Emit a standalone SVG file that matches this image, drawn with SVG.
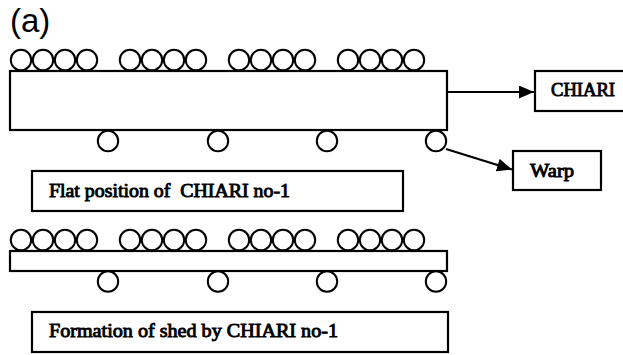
<svg xmlns="http://www.w3.org/2000/svg" xmlns:xlink="http://www.w3.org/1999/xlink" width="623" height="355" viewBox="0 0 623 355">
<style>
.box{fill:#fff;stroke:#000;stroke-width:2.2}
.yarn{fill:#fff;stroke:#000;stroke-width:2}
.lbl{font-family:"Liberation Serif","Times New Roman",serif;font-size:19px;fill:#000;stroke:#000;stroke-width:0.9}
.conn{stroke:#000;stroke-width:2;fill:none}
</style>
<defs>
<g id="four">
<circle class="yarn" cx="11" cy="0" r="10.2"/>
<circle class="yarn" cx="33" cy="0" r="10.2"/>
<circle class="yarn" cx="55" cy="0" r="10.2"/>
<circle class="yarn" cx="77" cy="0" r="10.2"/>
</g>
<g id="topyarns">
<use xlink:href="#four" x="10"/>
<use xlink:href="#four" x="119"/>
<use xlink:href="#four" x="228"/>
<use xlink:href="#four" x="337"/>
</g>
<g id="botyarns">
<circle class="yarn" cx="108" cy="0" r="10.2"/>
<circle class="yarn" cx="218" cy="0" r="10.2"/>
<circle class="yarn" cx="327" cy="0" r="10.2"/>
<circle class="yarn" cx="436" cy="0" r="10.2"/>
</g>
<marker id="arr" markerWidth="16" markerHeight="14" refX="15" refY="6.5" orient="auto" markerUnits="userSpaceOnUse">
<path d="M0,0 L15,6.5 L0,13 Z" fill="#000"/>
</marker>
</defs>

<text x="10" y="32" font-family="Liberation Sans, Arial, sans-serif" font-size="33" fill="#000">(a)</text>

<g id="chiari-flat">
<use xlink:href="#topyarns" y="60"/>
<rect class="box" x="10" y="71" width="437" height="59"/>
<use xlink:href="#botyarns" y="141"/>
</g>

<g id="chiari-label">
<rect class="box" x="535" y="71" width="92" height="40"/>
<text class="lbl" x="551" y="96" textLength="64" lengthAdjust="spacingAndGlyphs">CHIARI</text>
</g>

<g id="warp-label">
<rect class="box" x="513" y="151" width="88" height="39"/>
<text class="lbl" x="530" y="177" textLength="44" lengthAdjust="spacingAndGlyphs">Warp</text>
</g>

<g id="caption-flat">
<rect class="box" x="32" y="171" width="371" height="40"/>
<text class="lbl" x="49" y="197" textLength="241" lengthAdjust="spacingAndGlyphs" xml:space="preserve">Flat position of  CHIARI no-1</text>
</g>

<g id="chiari-shed">
<use xlink:href="#topyarns" y="240"/>
<rect class="box" x="10" y="251" width="437" height="20"/>
<use xlink:href="#botyarns" y="281.5"/>
</g>

<g id="caption-shed">
<rect class="box" x="32" y="312" width="416" height="40"/>
<text class="lbl" x="49" y="337" textLength="289" lengthAdjust="spacingAndGlyphs">Formation of shed by CHIARI no-1</text>
</g>

<g id="connectors">
<line class="conn" x1="447" y1="92" x2="534" y2="92" marker-end="url(#arr)"/>
<line class="conn" x1="446" y1="149" x2="512" y2="169.5" marker-end="url(#arr)"/>
</g>
</svg>
